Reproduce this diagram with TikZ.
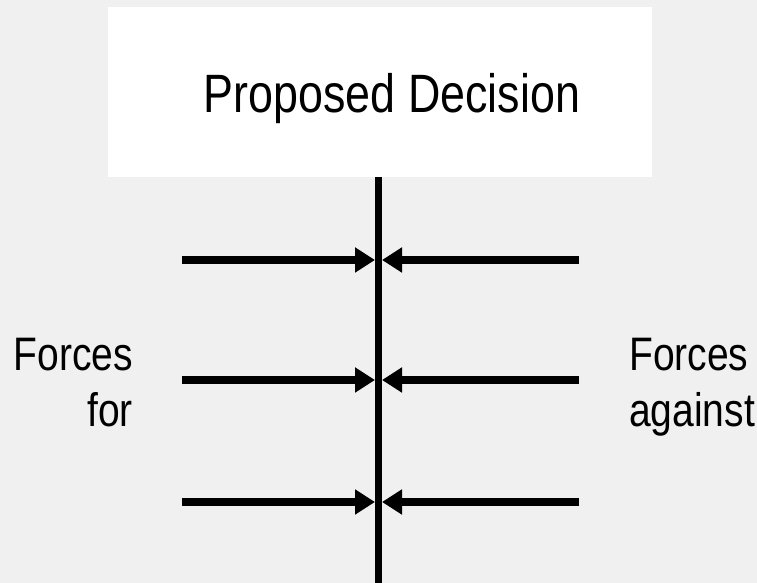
\documentclass[tikz,border=0pt]{standalone}
\usepackage{fontspec}
\setmainfont{Liberation Sans}[FakeStretch=0.83]
\usetikzlibrary{arrows.meta}
\definecolor{bgGray}{RGB}{240,240,240}

\begin{document}
\begin{tikzpicture}[x=1pt,y=1pt,
  force/.style={line width=8pt,-{Triangle[length=20pt,width=24pt]}},
  decisionbox/.style={fill=white,minimum width=544pt,minimum height=170pt,inner sep=0pt,text height=42pt,text depth=0pt,font=\fontsize{54}{60}\selectfont},
  sidetext/.style={inner sep=0pt,font=\fontsize{47}{56}\selectfont}]
\fill[bgGray] (0,0) rectangle (757,583);
\useasboundingbox (0,0) rectangle (757,583);
\node[decisionbox] (decision) at (380,491) {\hspace*{24pt}Proposed Decision};
\coordinate (axistop) at (378.5,406);
\coordinate (axisbot) at (378.5,0);
\draw[line width=7pt] (axistop) -- (axisbot);
\foreach \i/\y in %
{1/323,2/203,3/81} {
   \coordinate (for\i) at (182,\y);
   \coordinate (ag\i) at (579,\y);
   \coordinate (hitl\i) at (375,\y);
   \coordinate (hitr\i) at (382,\y);
   \draw[force] (for\i) -- (hitl\i);
   \draw[force] (ag\i) -- (hitr\i);
}
\node[sidetext,align=right,anchor=base east] (forcesfor) at (133,156) {Forces\\for};
\node[sidetext,align=left,anchor=base west] (forcesagainst) at (629,156) {Forces\\against};
\end{tikzpicture}
\end{document}
